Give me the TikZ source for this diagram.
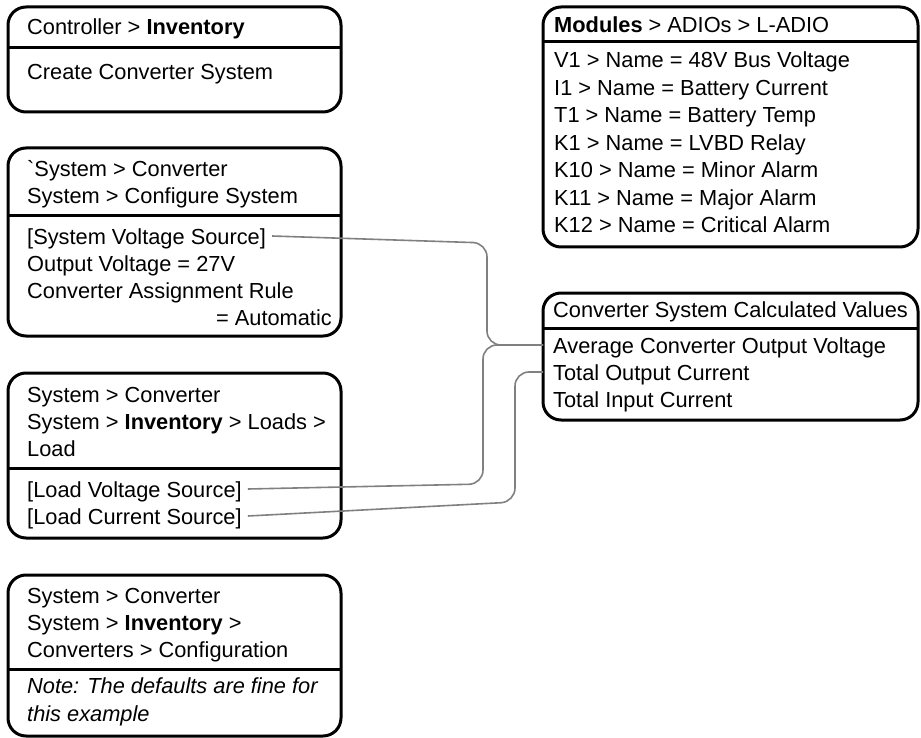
\documentclass[tikz,border=0pt]{standalone}
\usepackage{fontspec}
\setmainfont{Liberation Sans}
\usepackage{xcolor}
\usepackage{tikz}
\usetikzlibrary{positioning,calc}
\definecolor{wiregray}{HTML}{808080}

\begin{document}
\begin{tikzpicture}[
  x=1pt, y=-1pt,
  font=\fontsize{21.8pt}{26pt}\selectfont,
  panel/.style={draw,line width=3pt,rounded corners=18pt,inner sep=0pt,outer sep=0pt,minimum width=333pt},
  divider/.style={line width=3pt},
  row/.style={anchor=base west,inner xsep=6pt,inner ysep=0pt,text height=16pt,text depth=0pt},
  wire/.style={draw=wiregray,line width=1.6pt,rounded corners=14pt}
]
\useasboundingbox (0,0) rectangle (921,738);

% left column
\node[panel,minimum height=105pt,anchor=north west] (ctrl) at (8,7) {};
\node[panel,minimum height=188pt,below=36pt of ctrl] (conf) {};
\node[panel,minimum height=165pt,below=37pt of conf] (load) {};
\node[panel,minimum height=161pt,below=37pt of load] (conv) {};
% right column
\node[panel,minimum width=375pt,minimum height=240pt,anchor=north west] (mods) at (543,7) {};
\node[panel,minimum width=375pt,minimum height=127pt,below=46pt of mods] (calcval) {};

\draw[divider] ([yshift=-41pt]ctrl.north west) -- ([yshift=-41pt]ctrl.north east);
\draw[divider] ([yshift=-68pt]conf.north west) -- ([yshift=-68pt]conf.north east);
\draw[divider] ([yshift=-95pt]load.north west) -- ([yshift=-95pt]load.north east);
\draw[divider] ([yshift=-94pt]conv.north west) -- ([yshift=-94pt]conv.north east);
\draw[divider] ([yshift=-35pt]mods.north west) -- ([yshift=-35pt]mods.north east);
\draw[divider] ([yshift=-35pt]calcval.north west) -- ([yshift=-35pt]calcval.north east);

\node[row] (ctrlhead) at ([xshift=13pt,yshift=-28pt]ctrl.north west) {Controller > \textbf{Inventory}};
\node[row] (ctrlbody) at ([yshift=-45pt]ctrlhead.base west) {Create Converter System};

\node[row] (confhead1) at ([xshift=13pt,yshift=-29pt]conf.north west) {\textasciigrave System > Converter};
\node[row] (confhead2) at ([yshift=-27pt]confhead1.base west) {System > Configure System};
\node[row] (sysvolt) at ([yshift=-40pt]confhead2.base west) {[System Voltage Source]};
\node[row] (outvolt) at ([yshift=-27pt]sysvolt.base west) {Output Voltage = 27V};
\node[row] (assign) at ([yshift=-27pt]outvolt.base west) {Converter Assignment Rule};
\node[row,anchor=base east] (autorule) at ($(conf.east |- assign.base)+(-3pt,-27pt)$) {= Automatic};

\node[row] (loadhead1) at ([xshift=13pt,yshift=-29pt]load.north west) {System > Converter};
\node[row] (loadhead2) at ([yshift=-27pt]loadhead1.base west) {System > \textbf{Inventory} > Loads >};
\node[row] (loadhead3) at ([yshift=-27pt]loadhead2.base west) {Load};
\node[row] (loadvolt) at ([yshift=-41pt]loadhead3.base west) {[Load Voltage Source]};
\node[row] (loadcurr) at ([yshift=-27pt]loadvolt.base west) {[Load Current Source]};

\node[row] (convhead1) at ([xshift=13pt,yshift=-28pt]conv.north west) {System > Converter};
\node[row] (convhead2) at ([yshift=-27pt]convhead1.base west) {System > \textbf{Inventory} >};
\node[row] (convhead3) at ([yshift=-27pt]convhead2.base west) {Converters > Configuration};
\node[row] (note1) at ([yshift=-36pt]convhead3.base west) {\itshape Note: The defaults are fine for};
\node[row] (note2) at ([yshift=-28pt]note1.base west) {\itshape this example};

\node[row] (modhead) at ([xshift=5pt,yshift=-26pt]mods.north west) {\textbf{Modules} > ADIOs > L-ADIO};
\node[row] (v1) at ([yshift=-35pt]modhead.base west) {V1 > Name = 48V Bus Voltage};
\node[row] (i1) at ([yshift=-27.5pt]v1.base west) {I1 > Name = Battery Current};
\node[row] (t1) at ([yshift=-27.5pt]i1.base west) {T1 > Name = Battery Temp};
\node[row] (k1) at ([yshift=-27.5pt]t1.base west) {K1 > Name = LVBD Relay};
\node[row] (k10) at ([yshift=-27.5pt]k1.base west) {K10 > Name = Minor Alarm};
\node[row] (k11) at ([yshift=-27.5pt]k10.base west) {K11 > Name = Major Alarm};
\node[row] (k12) at ([yshift=-27.5pt]k11.base west) {K12 > Name = Critical Alarm};

\node[row] (calchead) at ([xshift=4pt,yshift=-24pt]calcval.north west) {Converter System Calculated Values};
\node[row] (avgvolt) at ([yshift=-36pt]calchead.base west) {Average Converter Output Voltage};
\node[row] (totout) at ([yshift=-27pt]avgvolt.base west) {Total Output Current};
\node[row] (totin) at ([yshift=-27pt]totout.base west) {Total Input Current};

% connectors
\coordinate (avgin) at (calcval.west |- avgvolt.east);
\coordinate (totoutin) at (calcval.west |- totout.east);
\draw[wire] (sysvolt.east) -- (487,243) -- ([xshift=-56pt]avgin) -- (avgin);
\draw[wire] (loadvolt.east) -- (483,484) -- ([xshift=-60pt]avgin) -- (avgin);
\draw[wire] (loadcurr.east) -- (515,502) -- ([xshift=-28pt]totoutin) -- (totoutin);
\end{tikzpicture}
\end{document}
